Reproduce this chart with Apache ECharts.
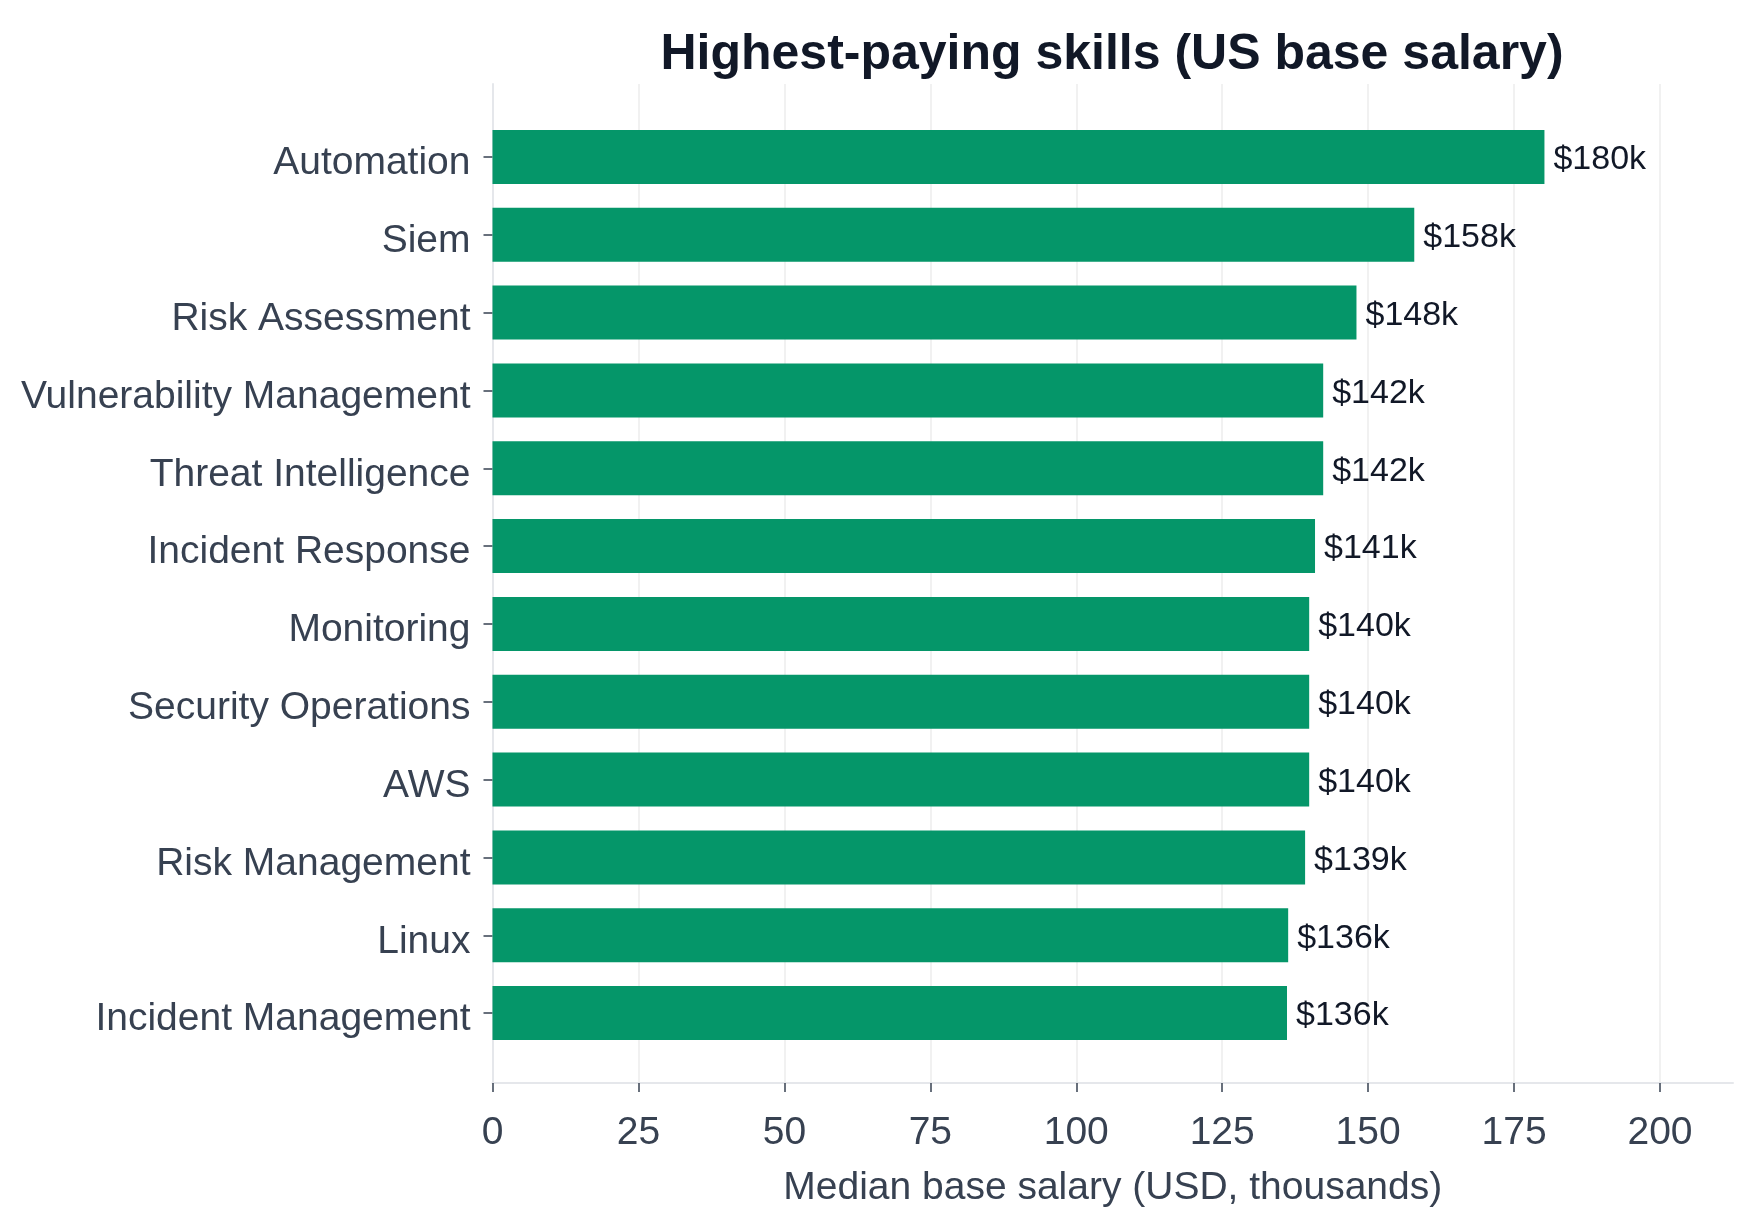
<!DOCTYPE html>
<html>
<head>
<meta charset="utf-8">
<script src="https://cdn.jsdelivr.net/npm/echarts@6/dist/echarts.min.js"></script>
<style>
  html, body { margin: 0; padding: 0; background: #fff; }
  #chart { width: 1751px; height: 1227px; }
</style>
</head>
<body>
<div id="chart"></div>
<script>
// skills, top to bottom
var skills = ['Automation', 'Siem', 'Risk Assessment', 'Vulnerability Management',
  'Threat Intelligence', 'Incident Response', 'Monitoring', 'Security Operations',
  'AWS', 'Risk Management', 'Linux', 'Incident Management'];
// median base salary, USD thousands
var salaries = [180.2, 157.9, 148.0, 142.3, 142.3, 140.9, 139.9, 139.9, 139.9, 139.2, 136.3, 136.1];
var xTicks = [0, 25, 50, 75, 100, 125, 150, 175, 200];
var xMax = 212.5;

var font = '"Liberation Sans", Arial, Helvetica, sans-serif';
var labelColor = '#374151';

window.onload = function () {
  var chart = echarts.init(document.getElementById('chart'));

  // gridline colours, last one (axis extent) hidden
  var gridColors = xTicks.map(function () { return '#ececec'; });
  gridColors.push('rgba(0,0,0,0)');

  var option = {
    animation: false,
    backgroundColor: '#ffffff',
    textStyle: { fontFamily: font },
    title: {
      text: 'Highest-paying skills (US base salary)',
      left: 1112,
      top: 30,
      padding: 0,
      textAlign: 'center',
      textStyle: { fontFamily: font, fontSize: 50, fontWeight: 'bold', color: '#111827' }
    },
    grid: [
      // bars
      { left: 492.5, right: 18, top: 118, height: 934 },
      // frame: gridlines, spines, x axis
      { left: 492.5, right: 18, top: 84, bottom: 144 }
    ],
    xAxis: [
      { type: 'value', gridIndex: 0, min: 0, max: xMax, show: false },
      {
        type: 'value', gridIndex: 1, min: 0, max: xMax, interval: 25,
        axisLine: { show: true, lineStyle: { color: '#e5e7eb', width: 2 } },
        axisTick: { show: true, length: 9, customValues: xTicks, lineStyle: { color: labelColor, width: 1.5 } },
        axisLabel: { customValues: xTicks, fontSize: 39, color: labelColor, margin: 31, fontFamily: font },
        splitLine: { show: true, lineStyle: { color: gridColors, width: 1.5 } },
        name: 'Median base salary (USD, thousands)',
        nameLocation: 'middle',
        nameGap: 86,
        nameTextStyle: { fontSize: 39, color: labelColor, fontFamily: font }
      }
    ],
    yAxis: [
      {
        type: 'category', gridIndex: 0, inverse: true, data: skills,
        axisLine: { show: false },
        axisTick: { show: true, alignWithLabel: true, length: 9, lineStyle: { color: labelColor, width: 1.5 } },
        axisLabel: {
          margin: 22,
          formatter: function (v) { return '{s|' + v + '}'; },
          rich: {
            s: { fontSize: 39, color: labelColor, fontFamily: font, padding: [13, 0, 0, 0] }
          }
        },
        splitLine: { show: false }
      },
      {
        type: 'value', gridIndex: 1, min: 0, max: 1,
        axisLine: { show: true, lineStyle: { color: '#e5e7eb', width: 2 } },
        axisTick: { show: false },
        axisLabel: { show: false },
        splitLine: { show: false }
      }
    ],
    series: [{
      type: 'bar',
      xAxisIndex: 0,
      yAxisIndex: 0,
      data: salaries,
      barWidth: 54,
      itemStyle: { color: '#059669' },
      label: {
        show: true,
        position: 'right',
        distance: 9,
        offset: [0, 3],
        fontSize: 34,
        color: '#111827',
        fontFamily: font,
        formatter: function (p) { return '$' + Math.round(p.value) + 'k'; }
      }
    }]
  };

  chart.setOption(option);
};
</script>
</body>
</html>
